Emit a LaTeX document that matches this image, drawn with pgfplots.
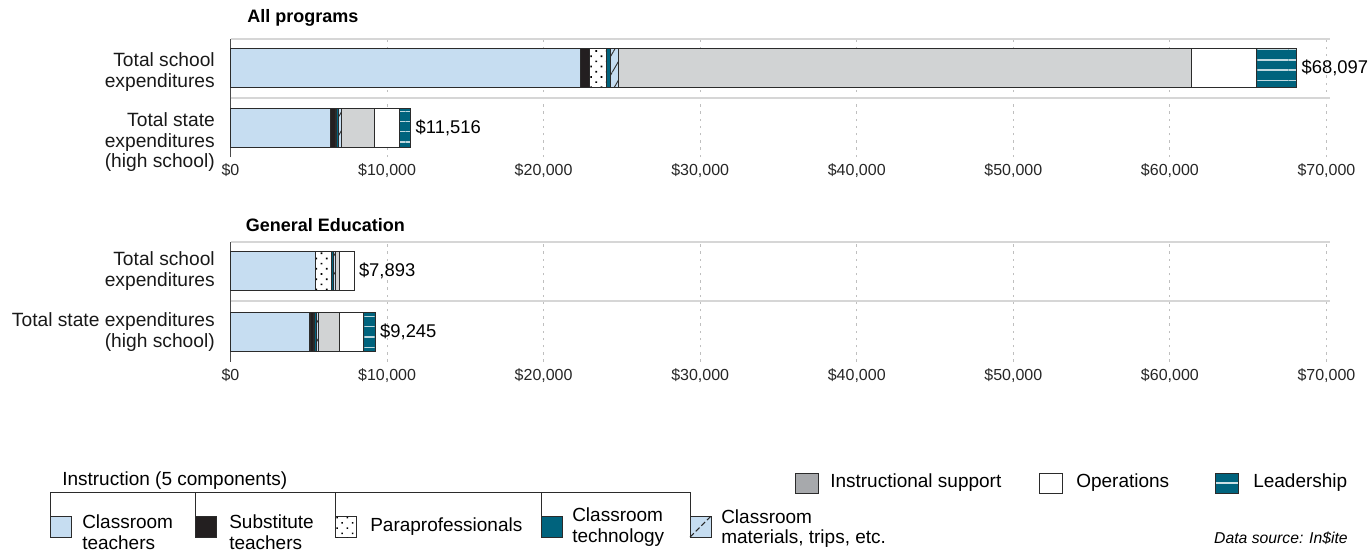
\documentclass[border=0pt]{standalone}
\usepackage{fontspec}
\setmainfont{Liberation Sans}
\usepackage{pgfplots}
\pgfplotsset{compat=1.18}
\usetikzlibrary{patterns.meta}

\definecolor{ctblue}{HTML}{C6DDF1}
\definecolor{subblk}{HTML}{231F20}
\definecolor{techteal}{HTML}{00637D}
\definecolor{isgray}{HTML}{D1D3D4}
\definecolor{isgraylg}{HTML}{A7A9AC}
\definecolor{edge}{HTML}{2B2B2B}
\definecolor{sepgray}{HTML}{D6D6D6}
\definecolor{axisgray}{HTML}{4A4A4A}

\tikzset{vlab/.style={anchor=west, inner sep=0pt, xshift=3.5pt, font=\fontsize{13.8}{16}\selectfont}}

\pgfplotsset{
  mystyle/.style={
    scale only axis, width=824.6pt, anchor=south west,
    xmin=0, xmax=70224, ymin=-0.49, ymax=1.48,
    xbar stacked, bar width=29.25pt,
    axis line style={draw=none},
    major tick length=0pt,
    scaled x ticks=false,
    xtick={0,10000,20000,30000,40000,50000,60000,70000},
    xticklabels={{\$0},{\$10,000},{\$20,000},{\$30,000},{\$40,000},{\$50,000},{\$60,000},{\$70,000}},
    xticklabel style={font=\fontsize{12}{14}\selectfont, inner sep=0pt, yshift=-5pt, text=black!85},
    xmajorgrids, grid style={gray!50, line width=0.75pt, dash pattern=on 1.8pt off 3.6pt},
    ytick={1},
    yticklabel style={font=\fontsize{14.4}{15.5}\selectfont, align=right, inner sep=0pt, xshift=-11.6pt, text=black!90},
    clip=false,
    every axis plot/.append style={draw=edge, line width=0.8pt},
  },
  ct/.style={fill=ctblue},
  st/.style={fill=subblk},
  pp/.style={fill=white, postaction={pattern={Dots[distance=5.5pt, angle=45, radius=0.9pt]}, pattern color=black}},
  tc/.style={fill=techteal},
  mt/.style={fill=ctblue, postaction={pattern={Lines[angle=60, distance=7pt, line width=0.7pt]}, pattern color=black!80}},
  is/.style={fill=isgray},
  op/.style={fill=white},
  ld/.style={fill=techteal, postaction={pattern={Lines[angle=0, distance=7.7pt, line width=1pt, yshift=1pt]}, pattern color=white!75!techteal}},
}

\begin{document}
\begin{tikzpicture}[x=0.75pt,y=-0.75pt]
\useasboundingbox (0,0) rectangle (1368,554);

\node[anchor=west, font=\bfseries\fontsize{13.5}{16}\selectfont, inner sep=0pt] at (247,18) {All programs};
\begin{axis}[mystyle, at={(172.875pt,-117.75pt)}, height=88.5pt,
  yticklabels={{Total school\\expenditures}},
  yticklabel style={yshift=-3pt},
  extra y ticks={0},
  extra y tick labels={{Total state\\expenditures\\(high school)}},
  extra y tick style={yticklabel style={yshift=-8pt}, grid=none},
]
\addplot[ct] coordinates {(22380,1) (6394,0)};
\addplot[st] coordinates {(575,1) (330,0)};
\addplot[pp] coordinates {(1090,1) (40,0)};
\addplot[tc] coordinates {(210,1) (150,0)};
\addplot[mt] coordinates {(500,1) (180,0)};
\addplot[is] coordinates {(36640,1) (2084,0)};
\addplot[op] coordinates {(4135,1) (1598,0)};
\addplot[ld] coordinates {(2567,1) (740,0)};
\draw[sepgray, line width=1.5pt] (rel axis cs:0,1) -- (rel axis cs:1,1);
\draw[sepgray, line width=1.5pt] (axis cs:0,0.5) -- (axis cs:70224,0.5);
\draw[axisgray, line width=1pt] (rel axis cs:0,0) -- (rel axis cs:0,1);
\node[vlab] at (axis cs:68097,1) {\$68,097};
\node[vlab] at (axis cs:11516,0) {\$11,516};
\end{axis}

\node[anchor=west, font=\bfseries\fontsize{13.5}{16}\selectfont, inner sep=0pt] at (245.5,225) {General Education};
\begin{axis}[mystyle, at={(172.875pt,-271.275pt)}, height=90pt,
  yticklabels={{Total school\\expenditures}},
  extra y ticks={0},
  extra y tick labels={{Total state expenditures\\(high school)}},
  extra y tick style={grid=none},
]
\addplot[ct] coordinates {(5400,1) (5078,0)};
\addplot[st] coordinates {(30,1) (255,0)};
\addplot[pp] coordinates {(1030,1) (25,0)};
\addplot[tc] coordinates {(120,1) (130,0)};
\addplot[mt] coordinates {(100,1) (120,0)};
\addplot[is] coordinates {(260,1) (1341,0)};
\addplot[op] coordinates {(953,1) (1533,0)};
\addplot[ld] coordinates {(0,1) (763,0)};
\draw[sepgray, line width=1.5pt] (rel axis cs:0,1) -- (rel axis cs:1,1);
\draw[sepgray, line width=1.5pt] (axis cs:0,0.5) -- (axis cs:70224,0.5);
\draw[axisgray, line width=1pt] (rel axis cs:0,0) -- (rel axis cs:0,1);
\node[vlab] at (axis cs:7893,1) {\$7,893};
\node[vlab] at (axis cs:9245,0) {\$9,245};
\end{axis}

% Legend
\begin{scope}[font=\fontsize{14.25}{15.5}\selectfont]
\node[anchor=west, inner sep=0pt] at (62,481) {Instruction (5 components)};
\draw[edge, line width=0.75pt] (50.5,492) -- (690,492);
\foreach \x in {50.5,195.7,335.7,541.7,690} \draw[edge, line width=0.75pt] (\x,492) -- (\x,516);
\filldraw[fill=ctblue, draw=edge, line width=0.75pt] (50.5,516) rectangle (71.5,537);
\node[anchor=west, align=left, inner sep=0pt] at (82,532) {Classroom\\teachers};
\filldraw[fill=subblk, draw=edge, line width=0.75pt] (195.7,516) rectangle (216.7,537);
\node[anchor=west, align=left, inner sep=0pt] at (229,532) {Substitute\\teachers};
\filldraw[fill=white, draw=edge, line width=0.75pt, postaction={pattern={Dots[distance=5.5pt, angle=45, radius=0.8pt]}, pattern color=black}] (335.7,516) rectangle (356.7,537);
\node[anchor=west, inner sep=0pt] at (370,527) {Paraprofessionals};
\filldraw[fill=techteal, draw=edge, line width=0.75pt] (541.7,516) rectangle (562.7,537);
\node[anchor=west, align=left, inner sep=0pt] at (572,527) {Classroom\\technology};
\filldraw[fill=ctblue, draw=edge, line width=0.75pt] (690,516) rectangle (711,537);
\draw[black!85, line width=0.8pt, dash pattern=on 4pt off 2pt] (690,537) -- (711,516);
\node[anchor=west, align=left, inner sep=0pt] at (721,528.5) {Classroom\\materials, trips, etc.};

\filldraw[fill=isgraylg, draw=edge, line width=0.75pt] (795,473) rectangle (818,493);
\node[anchor=west, inner sep=0pt] at (830,483) {Instructional support};
\filldraw[fill=white, draw=edge, line width=0.75pt] (1039,473) rectangle (1062,493);
\node[anchor=west, inner sep=0pt] at (1076,483) {Operations};
\filldraw[fill=techteal, draw=edge, line width=0.75pt] (1215,473) rectangle (1238,493);
\draw[white!80!techteal, line width=1pt] (1215.5,483) -- (1237.5,483);
\node[anchor=west, inner sep=0pt] at (1253,483) {Leadership};
\end{scope}
\node[anchor=east, inner sep=0pt, font=\itshape\fontsize{11.8}{14}\selectfont] at (1348,538) {Data source: In\$ite};
\end{tikzpicture}
\end{document}
